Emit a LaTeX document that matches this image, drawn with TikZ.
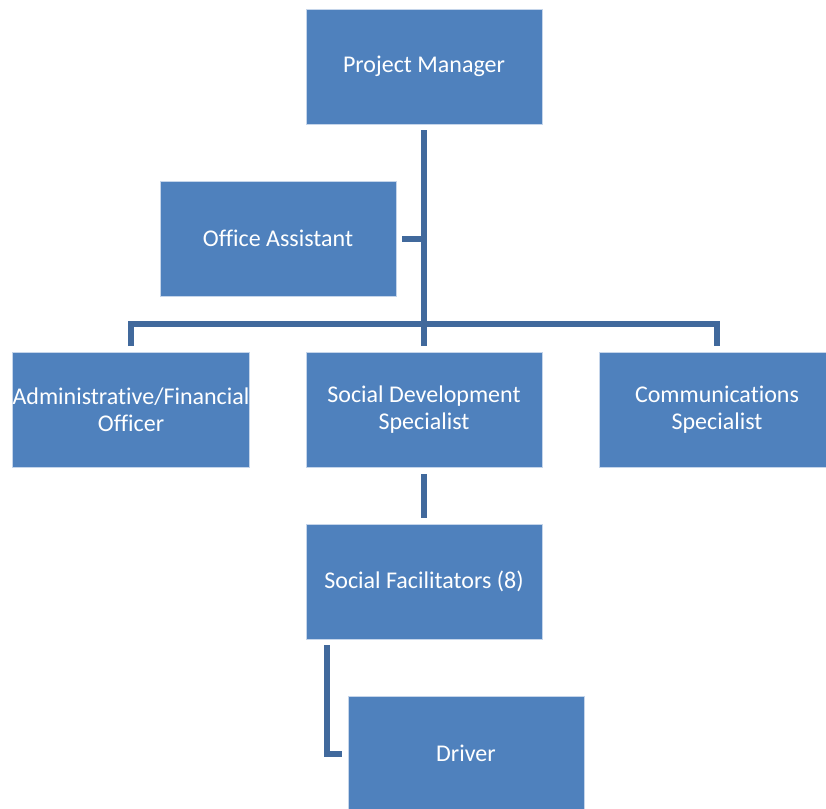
\documentclass[tikz,border=0pt]{standalone}
\usepackage{fontspec}
\setmainfont{Carlito}[Ligatures={NoCommon}]
\definecolor{boxblue}{HTML}{4F81BD}
\definecolor{lineblue}{HTML}{41699C}
\definecolor{boxedge}{HTML}{C5D5EA}
\begin{document}
\begin{tikzpicture}[x=1pt,y=1pt,
  box/.style={rectangle, fill=boxblue, draw=boxedge, line width=0.8pt,
    minimum width=236pt, minimum height=115pt, text=white, align=center,
    font=\fontsize{24}{27}\selectfont, inner sep=0pt},
  conn/.style={draw=lineblue, line width=6pt}]
\useasboundingbox (0,0) rectangle (826,-808);
\clip (0,0) rectangle (826,-808);
\node[box] (pm)   at (424,-66.5)  {Project Manager};
\node[box] (oa)   at (278,-238.5) {Office Assistant};
\node[box] (adm)  at (131,-410)   {Administrative/Financial\\Officer};
\node[box] (sds)  at (424,-410)   {Social Development\\Specialist};
\node[box] (com)  at (717,-410)   {Communications\\Specialist};
\node[box] (sf)   at (424,-581.5) {Social Facilitators (8)};
\node[box] (drv)  at (466,-753.5) {Driver};
% connectors
\coordinate (bar) at (424,-324);
\draw[conn] ([yshift=-6pt]pm.south) -- ([yshift=6pt]sds.north);
\draw[conn] ([xshift=6pt]oa.east) -- (oa.east -| pm.south);
\draw[conn] ([yshift=6pt]adm.north) -- (adm.north |- bar) -- (com.north |- bar) -- ([yshift=6pt]com.north);
\draw[conn] ([yshift=-6pt]sds.south) -- ([yshift=6pt]sf.north);
\coordinate (sfl) at ([yshift=-6pt]327,-639);
\draw[conn] (sfl) -- (sfl |- drv.west) -- ([xshift=-6pt]drv.west);
\end{tikzpicture}
\end{document}
